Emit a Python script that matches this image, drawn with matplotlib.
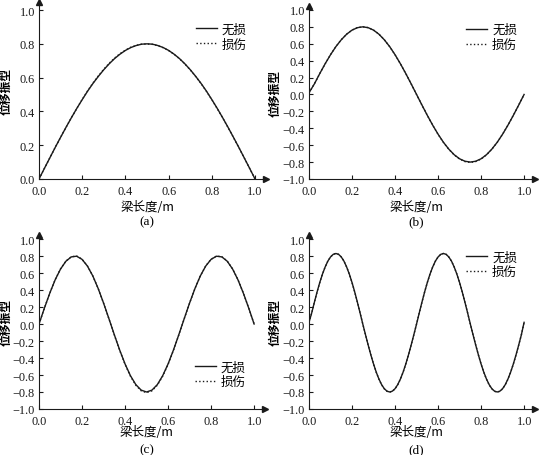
import matplotlib.pyplot as plt
import numpy as np

# beam coordinate (m) of the sampled points
x_coarse = np.linspace(0.0, 1.0, 41)
x_fine = np.linspace(0.0, 1.0, 81)

# mode 1
mode1_intact = [0.000, 0.063, 0.125, 0.187, 0.247, 0.306, 0.363, 0.418, 0.470, 0.520,
                0.566, 0.608, 0.647, 0.682, 0.713, 0.739, 0.761, 0.778, 0.790, 0.798,
                0.800, 0.798, 0.790, 0.778, 0.761, 0.739, 0.713, 0.682, 0.647, 0.608,
                0.566, 0.520, 0.470, 0.418, 0.363, 0.306, 0.247, 0.187, 0.125, 0.063, 0.000]
mode1_damaged = [0.000, 0.063, 0.125, 0.187, 0.247, 0.306, 0.363, 0.418, 0.471, 0.522,
                 0.569, 0.611, 0.650, 0.685, 0.716, 0.742, 0.763, 0.780, 0.791, 0.798,
                 0.799, 0.797, 0.789, 0.777, 0.760, 0.738, 0.712, 0.681, 0.646, 0.607,
                 0.565, 0.519, 0.469, 0.417, 0.362, 0.305, 0.246, 0.186, 0.125, 0.063, 0.000]

# mode 2
mode2_intact = [0.020, 0.125, 0.247, 0.363, 0.470, 0.566, 0.647, 0.713, 0.761, 0.790,
                0.800, 0.790, 0.761, 0.713, 0.647, 0.566, 0.470, 0.363, 0.247, 0.125,
                0.000, -0.125, -0.247, -0.363, -0.470, -0.566, -0.647, -0.713, -0.761, -0.790,
                -0.800, -0.790, -0.761, -0.713, -0.647, -0.566, -0.470, -0.363, -0.247, -0.125, 0.000]
mode2_damaged = [0.020, 0.125, 0.247, 0.363, 0.470, 0.566, 0.648, 0.714, 0.762, 0.791,
                 0.801, 0.791, 0.762, 0.714, 0.648, 0.566, 0.470, 0.363, 0.247, 0.125,
                 0.000, -0.125, -0.247, -0.364, -0.471, -0.567, -0.649, -0.715, -0.764, -0.794,
                 -0.805, -0.794, -0.764, -0.715, -0.649, -0.567, -0.471, -0.363, -0.247, -0.125, 0.000]

# mode 3
mode3_intact = [0.000, 0.187, 0.363, 0.520, 0.647, 0.739, 0.790, 0.798, 0.761, 0.682,
                0.566, 0.418, 0.247, 0.063, -0.125, -0.306, -0.470, -0.608, -0.713, -0.778,
                -0.800, -0.778, -0.713, -0.608, -0.470, -0.306, -0.125, 0.063, 0.247, 0.418,
                0.566, 0.682, 0.761, 0.798, 0.790, 0.739, 0.647, 0.520, 0.363, 0.187, 0.000]
mode3_damaged = [0.000, 0.187, 0.364, 0.522, 0.649, 0.741, 0.792, 0.800, 0.763, 0.684,
                 0.567, 0.418, 0.246, 0.061, -0.128, -0.310, -0.475, -0.614, -0.720, -0.786,
                 -0.808, -0.786, -0.720, -0.614, -0.475, -0.310, -0.128, 0.061, 0.246, 0.418,
                 0.567, 0.684, 0.763, 0.800, 0.792, 0.741, 0.649, 0.522, 0.364, 0.187, 0.000]

# mode 4
mode4_intact = [0.020, 0.130, 0.256, 0.377, 0.488, 0.587, 0.671, 0.740, 0.789, 0.820,
                0.830, 0.820, 0.789, 0.740, 0.671, 0.587, 0.488, 0.377, 0.256, 0.130,
                0.000, -0.125, -0.247, -0.363, -0.470, -0.566, -0.647, -0.713, -0.761, -0.790,
                -0.800, -0.790, -0.761, -0.713, -0.647, -0.566, -0.470, -0.363, -0.247, -0.125,
                0.000, 0.130, 0.256, 0.377, 0.488, 0.587, 0.671, 0.740, 0.789, 0.820,
                0.830, 0.820, 0.789, 0.740, 0.671, 0.587, 0.488, 0.377, 0.256, 0.130,
                0.000, -0.125, -0.247, -0.363, -0.470, -0.566, -0.647, -0.713, -0.761, -0.790,
                -0.800, -0.790, -0.761, -0.713, -0.647, -0.566, -0.470, -0.363, -0.247, -0.125,
                0.020]
mode4_damaged = [0.020, 0.130, 0.256, 0.377, 0.488, 0.587, 0.671, 0.740, 0.789, 0.820,
                 0.830, 0.820, 0.789, 0.740, 0.671, 0.587, 0.488, 0.377, 0.256, 0.130,
                 0.000, -0.125, -0.247, -0.364, -0.471, -0.567, -0.649, -0.715, -0.763, -0.792,
                 -0.802, -0.792, -0.763, -0.715, -0.649, -0.567, -0.471, -0.364, -0.247, -0.125,
                 0.000, 0.130, 0.256, 0.377, 0.488, 0.587, 0.671, 0.740, 0.789, 0.820,
                 0.830, 0.820, 0.789, 0.740, 0.671, 0.587, 0.488, 0.377, 0.256, 0.130,
                 0.000, -0.125, -0.247, -0.364, -0.471, -0.567, -0.649, -0.715, -0.763, -0.792,
                 -0.802, -0.792, -0.763, -0.715, -0.649, -0.567, -0.471, -0.364, -0.247, -0.125,
                 0.020]

series_labels = ['无损', '损伤']
panel_tags = ['(a)', '(b)', '(c)', '(d)']
x_ticks = [0.0, 0.2, 0.4, 0.6, 0.8, 1.0]
y_ticks_pos = [0.0, 0.2, 0.4, 0.6, 0.8, 1.0]
y_ticks_full = [-1.0, -0.8, -0.6, -0.4, -0.2, 0.0, 0.2, 0.4, 0.6, 0.8, 1.0]

plt.rcParams['font.family'] = ['Liberation Serif', 'Noto Sans CJK SC']
cjk = ['Noto Sans CJK SC', 'Liberation Serif']
ink = '#1a1a1a'

fig = plt.figure(figsize=(5.39, 4.56), dpi=100)

panels = [
    # rect, x, intact, damaged, ylim, yticks, legend anchor, ylabel x, xlabel y, tag y
    ([0.0724, 0.6053, 0.4208, 0.389], x_coarse, mode1_intact, mode1_damaged,
     (0.0, 1.05), y_ticks_pos, (0.955, 0.93), -0.117, -0.155, -0.24),
    ([0.5733, 0.6053, 0.4190, 0.380], x_coarse, mode2_intact, mode2_damaged,
     (-1.0, 1.05), y_ticks_full, (0.96, 0.95), -0.12, -0.16, -0.245),
    ([0.0724, 0.1009, 0.4190, 0.382], x_coarse, mode3_intact, mode3_damaged,
     (-1.0, 1.05), y_ticks_full, (0.955, 0.33), -0.117, -0.13, -0.232),
    ([0.5733, 0.1009, 0.4190, 0.382], x_fine, mode4_intact, mode4_damaged,
     (-1.0, 1.05), y_ticks_full, (0.96, 0.96), -0.12, -0.13, -0.232),
]

for tag, (rect, xs, intact, damaged, ylim, yticks, leg_anchor, ylab_x, xlab_y, tag_y) in zip(panel_tags, panels):
    ax = fig.add_axes(rect)
    ax.plot(xs, intact, color=ink, lw=1.0, ls='-', label=series_labels[0])
    ax.plot(xs, damaged, color=ink, lw=1.0, ls=':', label=series_labels[1])

    ax.set_xlim(0.0, 1.05)
    ax.set_ylim(*ylim)
    ax.set_xticks(x_ticks)
    ax.set_yticks(yticks)
    ax.set_xticklabels([f'{v:.1f}' for v in x_ticks])
    ax.set_yticklabels([f'{v:.1f}'.replace('-', '\u2212') for v in yticks])
    ax.tick_params(direction='in', length=3, width=0.8, labelsize=8.8, pad=3, colors=ink)
    ax.tick_params(axis='x', pad=4)

    for side in ['top', 'right']:
        ax.spines[side].set_visible(False)
    for side in ['left', 'bottom']:
        ax.spines[side].set_linewidth(0.8)
        ax.spines[side].set_color(ink)

    # arrow heads at the spine ends
    ax.plot(1, 0, '>', color=ink, ms=4, transform=ax.transAxes, clip_on=False)
    ax.plot(0, 1, '^', color=ink, ms=4, transform=ax.transAxes, clip_on=False)

    ax.set_ylabel('位移振型', family=cjk, fontsize=8.5, fontweight='bold')
    ax.yaxis.set_label_coords(ylab_x, 0.5)
    ax.text(0.5 / 1.05, xlab_y, '梁长度/m', family=cjk, fontsize=9,
            transform=ax.transAxes, ha='center', va='center')
    ax.text(0.5 / 1.05, tag_y, tag, fontsize=9.5, transform=ax.transAxes,
            ha='center', va='center')

    ax.legend(loc='upper right', bbox_to_anchor=leg_anchor, frameon=False,
              prop={'family': cjk, 'size': 9}, handlelength=1.7,
              handletextpad=0.4, labelspacing=0.15, borderpad=0.2)

fig.savefig('out.png', dpi=100)
